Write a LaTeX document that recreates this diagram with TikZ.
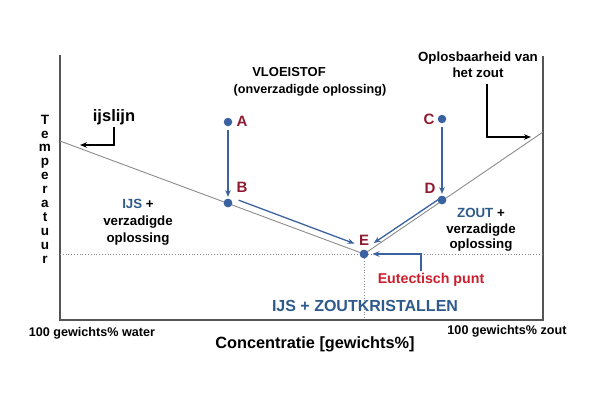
\documentclass[tikz,border=0pt]{standalone}
\usepackage{fontspec}
\setmainfont{Liberation Sans}
\usetikzlibrary{arrows.meta,calc}
\definecolor{pblue}{HTML}{3A62A0}
\definecolor{tblue}{HTML}{2E5A8C}
\definecolor{dred}{HTML}{8E1B30}
\definecolor{ered}{HTML}{CC1F2D}
\definecolor{axgray}{HTML}{555555}
\definecolor{lgray}{HTML}{8C8C8C}
\newcommand{\fs}[2]{\fontsize{#1}{#2}\selectfont\bfseries}
\begin{document}
\begin{tikzpicture}[x=1pt,y=-1pt,
  dot/.style={circle,fill=pblue,inner sep=0pt,minimum size=8.5pt},
  flow/.style={pblue,line width=1.3pt,-{Stealth[length=7pt,width=5.5pt]}},
  blk/.style={black,line width=1.4pt,-{Stealth[length=7pt,width=5.5pt]}},
  ptlabel/.style={text=dred,font=\fs{15}{17},inner sep=0pt},
  txt/.style={inner sep=0pt,align=center}]
\useasboundingbox[fill=white] (0,0) rectangle (600,400);

% axes
\draw[axgray,line width=1.5pt] (60,55) -- (60,320) -- (543,320) -- (543,56);
% phase lines
\coordinate (ice0) at (60,141);
\coordinate (salt1) at (543,132);
\coordinate (dotL) at (60,254);
\coordinate (dotR) at (543,254);
\coordinate (dotB) at (364,320);
\draw[lgray,dotted,line width=0.8pt] (dotL) -- (dotR);

% points
\node[dot] (A) at (228,122) {};
\node[dot] (B) at (228,203) {};
\node[dot] (C) at (442,119) {};
\node[dot] (D) at (442,200) {};
\node[dot] (E) at (364,254) {};
\draw[lgray,dotted,line width=0.8pt] (E) -- (dotB);
\draw[lgray,line width=0.9pt] (ice0) -- (E.center) -- (salt1);
\node[dot] at (B) {};
\node[dot] at (D) {};
\node[dot] at (E) {};

\node[ptlabel] (lA) at (242,121) {A};
\node[ptlabel] (lB) at (242,187) {B};
\node[ptlabel] (lC) at (429,119) {C};
\node[ptlabel] (lD) at (430,188) {D};
\node[ptlabel] (lE) at (364,240) {E};

% process arrows
\draw[flow] ($(A)!8pt!(B)$) -- ($(B)!6pt!(A)$);
\draw[flow] ($(C)!8pt!(D)$) -- ($(D)!6pt!(C)$);
\draw[flow] ($(B)!9pt!(E)+(2.2,-6)$) -- ($(E)!12.5pt!(B)+(2.2,-6)$);
\draw[flow] ($(D)!2pt!(E)+(-1.5,-2)$) -- ($(E)!14pt!(D)+(-1.8,-3)$);

% eutectic
\node[txt,text=ered,font=\fs{14.2}{16}] (eut) at (431,280) {Eutectisch punt};
\coordinate (eutstart) at (421,271);
\draw[flow,line width=1.2pt,shorten >=4pt] (eutstart) |- (E);

% texts
\node[txt,font=\fs{13}{15}] (vl) at (289,72) {VLOEISTOF};
\node[txt,font=\fs{12.6}{15}] (onv) at (310,90) {(onverzadigde oplossing)};
\node[txt,font=\fs{13.3}{17}] (ijsreg) at (138,222) {\textcolor{tblue}{IJS} +\\verzadigde\\oplossing};
\node[txt,font=\fs{13.3}{15.5}] (zoutreg) at (481,230) {\textcolor{tblue}{ZOUT} +\\verzadigde\\oplossing};
\node[txt,text=tblue,font=\fs{16}{17}] (ijszout) at (365,306) {IJS + ZOUTKRISTALLEN};
\node[txt,font=\fs{12.6}{14}] (water) at (92,333) {100 gewichts\% water};
\node[txt,font=\fs{12.6}{14}] (zout) at (507,331) {100 gewichts\% zout};
\node[txt,font=\fs{16.3}{18}] (conc) at (315,344) {Concentratie [gewichts\%]};
\node[txt,font=\fs{13.5}{13.9}] (temp) at (45,189) {T\\e\\m\\p\\e\\r\\a\\t\\u\\u\\r};

% ijslijn
\node[txt,font=\fs{16.5}{17}] (ijslijn) at (114,117) {ijslijn};
\coordinate (ijstip) at (80,145);
\draw[blk,shorten <=2pt] (ijslijn.south) |- (ijstip);

% oplosbaarheid
\node[txt,font=\fs{13.3}{16}] (oplos) at (478,65) {Oplosbaarheid van\\het zout};
\coordinate (opstart) at (487,84);
\coordinate (optip) at (531,137);
\draw[blk] (opstart) |- (optip);
\end{tikzpicture}
\end{document}
